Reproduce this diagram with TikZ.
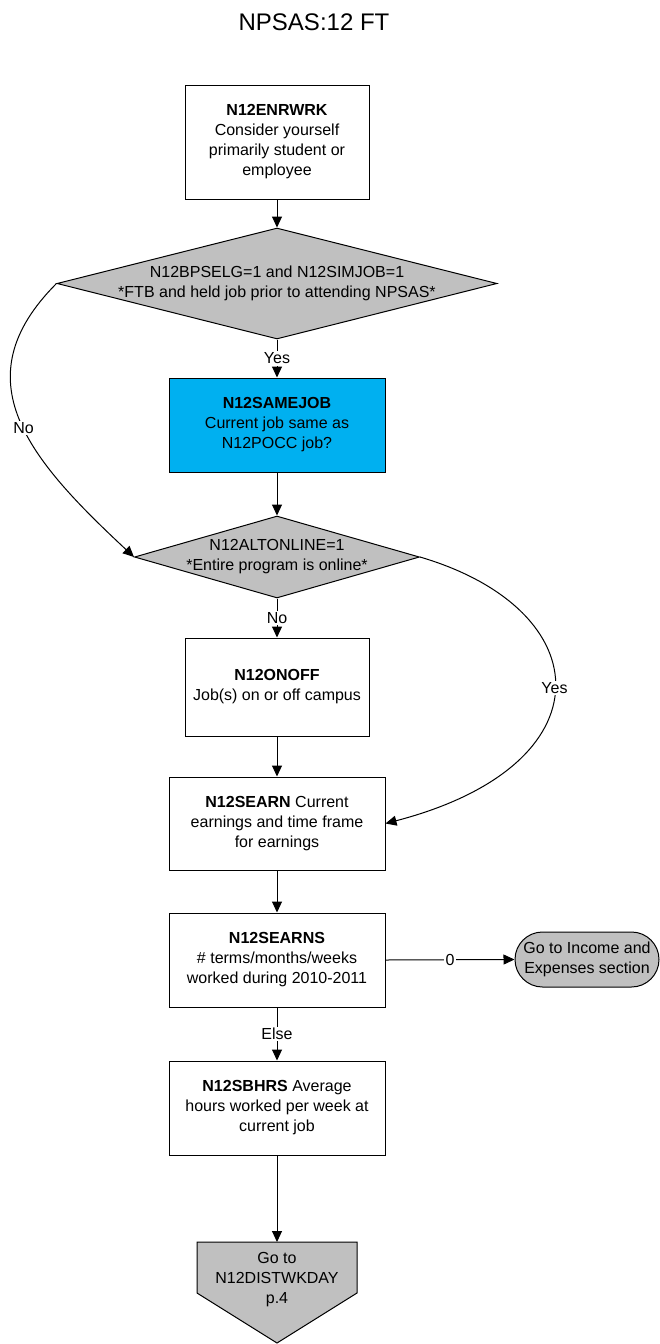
\documentclass[tikz,border=0pt]{standalone}
\usepackage{fontspec}
\setmainfont{Liberation Sans}
\usetikzlibrary{shapes.geometric,arrows.meta}
\definecolor{qblue}{HTML}{00B0F0}
\definecolor{qgray}{HTML}{C0C0C0}
\begin{document}
\begin{tikzpicture}[x=1pt,y=-1pt,
  every node/.style={font=\fontsize{16}{20}\selectfont, inner sep=0pt},
  box/.style={draw, line width=1pt, rectangle, align=center, fill=white},
  dia/.style={draw, line width=1pt, diamond, fill=qgray, inner sep=0pt},
  lbl/.style={fill=white, inner sep=1.5pt},
  arr/.style={line width=1pt, -{Triangle[length=11pt,width=10pt]}},
  shapeline/.style={draw, line width=1pt}
]
\useasboundingbox (0,0) rectangle (660,1344);
\node (title) at (314,22) {\fontsize{24}{28}\selectfont NPSAS:12 FT};

\node[box, minimum width=184pt, minimum height=114pt] (enr) at (277,142)
  {\textbf{N12ENRWRK}\\Consider yourself\\primarily student or\\employee};

\node[dia, minimum width=440pt, minimum height=111pt,
  label={[align=center]center:N12BPSELG=1 and N12SIMJOB=1\\*FTB and held job prior to attending NPSAS*}] (d1) at (277,283.5) {};

\node[box, fill=qblue, minimum width=216pt, minimum height=94pt] (same) at (277,425)
  {\textbf{N12SAMEJOB}\\Current job same as\\N12POCC job?};

\node[dia, minimum width=285pt, minimum height=82pt,
  label={[align=center]center:N12ALTONLINE=1\\*Entire program is online*}] (d2) at (277,557) {};

\node[box, minimum width=184pt, minimum height=98pt] (onoff) at (277,687)
  {\textbf{N12ONOFF}\\Job(s) on or off campus};

\node[box, minimum width=216pt, minimum height=93pt] (searn) at (277,823.5)
  {\textbf{N12SEARN} Current\\earnings and time frame\\for earnings};

\node[box, minimum width=216pt, minimum height=94pt] (searns) at (277,960)
  {\textbf{N12SEARNS}\\\# terms/months/weeks\\worked during 2010-2011};

\node[box, fill=qgray, minimum width=144pt, minimum height=55pt, rounded corners=27.5pt] (inc) at (587,959.5)
  {Go to Income and\\Expenses section};

\node[box, minimum width=216pt, minimum height=94pt] (sbhrs) at (277,1108)
  {\textbf{N12SBHRS} Average\\hours worked per week at\\current job};

\draw[shapeline, fill=qgray] (197,1242) -- (357,1242) -- (357,1293) -- (277,1343) -- (197,1293) -- cycle;
\coordinate (gotop) at (277,1242);
\node[align=center] (goto) at (277,1280) {Go to\\N12DISTWKDAY\\p.4};

\draw[arr] (enr.south) -- (d1.north);
\draw[arr] (d1.south) -- node[lbl]{Yes} (same.north);
\draw[arr] (same.south) -- (d2.north);
\draw[arr] (d2.south) -- node[lbl]{No} (onoff.north);
\draw[arr] (onoff.south) -- (searn.north);
\draw[arr] (searn.south) -- (searns.north);
\draw[arr] (searns.east) -- node[lbl]{0} (inc.west);
\draw[arr] (searns.south) -- node[lbl]{Else} (sbhrs.north);
\draw[arr] (sbhrs.south) -- (gotop);
\draw[arr] (d1.west) .. controls (-40,380) and (30,460) .. node[lbl,pos=0.53]{No} (d2.west);
\draw[arr] (d2.east) .. controls (600,610) and (610,765) .. node[lbl,pos=0.5]{Yes} (searn.east);
\end{tikzpicture}
\end{document}
